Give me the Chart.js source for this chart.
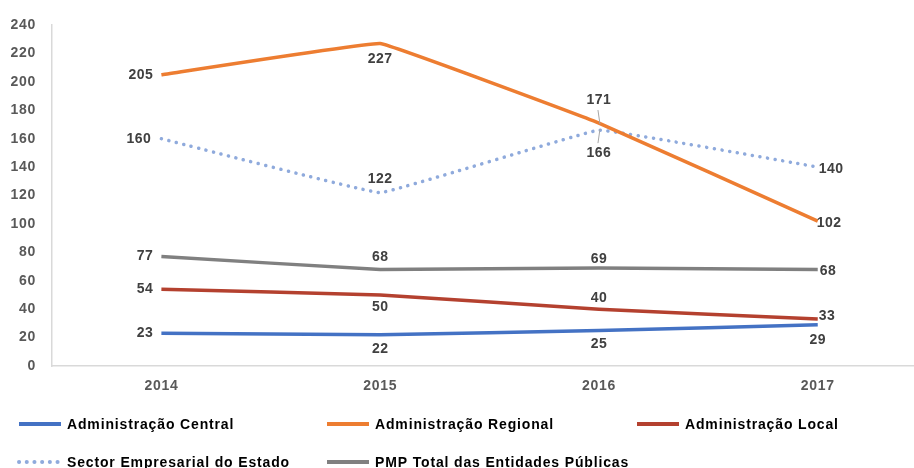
<!DOCTYPE html>
<html>
<head>
<meta charset="utf-8">
<script src="https://cdn.jsdelivr.net/npm/chart.js@4.4.0/dist/chart.umd.min.js"></script>
<style>
    html, body { margin: 0; padding: 0; background: #fff; }
    #wrap { width: 914px; height: 468px; position: relative; }
</style>
</head>
<body>
<div id="wrap"><canvas id="chart"></canvas></div>
<script>
// Data
const years = [2014, 2015, 2016, 2017];
const seriesNames = [
    'Administração Central',
    'Administração Regional',
    'Administração Local',
    'Sector Empresarial do Estado',
    'PMP Total das Entidades Públicas'
];
const adminCentral = [23, 22, 25, 29];
const adminRegional = [205, 227, 171, 102];
const adminLocal = [54, 50, 40, 33];
const sectorEmpresarial = [160, 122, 166, 140];
const pmpTotal = [77, 68, 69, 68];
const yTicks = [0, 20, 40, 60, 80, 100, 120, 140, 160, 180, 200, 220, 240];

// Where each value label sits relative to its point: [dx, dy, align, leader]
const labelPlacement = [
    [[-8, 0, 'right'], [0, 14, 'center'], [0, 14, 'center'], [0, 15, 'center']],
    [[-8, 0, 'right'], [0, 16, 'center'], [0, -23, 'center', true], [-1, 2, 'left']],
    [[-8, 0, 'right'], [0, 12, 'center'], [0, -11, 'center'], [1, -3, 'left']],
    [[-10, 0, 'right'], [0, -14, 'center'], [0, 23, 'center', true], [1, 2, 'left']],
    [[-8, 0, 'right'], [0, -12, 'center'], [0, -9, 'center'], [2, 2, 'left']]
];

const colors = ['#4472C4', '#ED7D31', '#B4412F', '#8FAADC', '#808080'];
const FONT = '"Liberation Sans", Arial, sans-serif';

function toPoints(values) {
    return values.map((v, i) => ({ x: years[i], y: v }));
}

const allSeries = [adminCentral, adminRegional, adminLocal, sectorEmpresarial, pmpTotal];

const datasets = allSeries.map((values, i) => ({
    label: seriesNames[i],
    data: toPoints(values),
    borderColor: colors[i],
    backgroundColor: colors[i],
    borderWidth: 3.5,
    borderDash: i === 3 ? [0.1, 7.6] : [],
    borderCapStyle: i === 3 ? 'round' : 'butt',
    pointRadius: 0,
    pointHoverRadius: 0,
    tension: 0.05,
    fill: false
}));

// wider letter spacing, closer to the original's geometric font
const spacing = {
    id: 'spacing',
    beforeUpdate(chart) { chart.ctx.letterSpacing = '0.7px'; },
    beforeDraw(chart) { chart.ctx.letterSpacing = '0.7px'; }
};

// value labels next to each point
const valueLabels = {
    id: 'valueLabels',
    afterDatasetsDraw(chart) {
        const ctx = chart.ctx;
        ctx.save();
        ctx.letterSpacing = '0.5px';
        ctx.font = 'bold 14px ' + FONT;
        ctx.fillStyle = '#404040';
        ctx.textBaseline = 'middle';
        chart.data.datasets.forEach((ds, di) => {
            const meta = chart.getDatasetMeta(di);
            meta.data.forEach((pt, pi) => {
                const p = labelPlacement[di][pi];
                const x = pt.x + p[0];
                const y = pt.y + p[1];
                ctx.textAlign = p[2];
                ctx.fillText(String(allSeries[di][pi]), x, y);
                if (p[3]) {
                    // small leader line back to the point
                    ctx.strokeStyle = '#a6a6a6';
                    ctx.lineWidth = 1;
                    ctx.beginPath();
                    const dir = p[1] < 0 ? 1 : -1;
                    ctx.moveTo(x - 1, y + dir * 10);
                    ctx.lineTo(pt.x + 1, pt.y + dir * 1);
                    ctx.stroke();
                }
            });
        });
        ctx.restore();
    }
};

// legend laid out as a 3-column grid under the chart
const gridLegend = {
    id: 'gridLegend',
    afterDraw(chart) {
        const ctx = chart.ctx;
        const colX = [17, 325, 635];
        const rowY = [424, 462];
        ctx.save();
        ctx.letterSpacing = '0.85px';
        ctx.font = 'bold 14px ' + FONT;
        ctx.fillStyle = '#000';
        ctx.textBaseline = 'middle';
        ctx.textAlign = 'left';
        chart.data.datasets.forEach((ds, i) => {
            const x = colX[i % 3];
            const y = rowY[Math.floor(i / 3)];
            ctx.strokeStyle = ds.borderColor;
            ctx.lineWidth = 4;
            ctx.setLineDash(ds.borderDash);
            ctx.lineCap = ds.borderCapStyle;
            ctx.beginPath();
            ctx.moveTo(x + 2, y);
            ctx.lineTo(x + 44, y);
            ctx.stroke();
            ctx.setLineDash([]);
            ctx.fillText(ds.label, x + 50, y + 1);
        });
        ctx.restore();
    }
};

new Chart(document.getElementById('chart'), {
    type: 'line',
    data: { datasets: datasets },
    options: {
        responsive: true,
        maintainAspectRatio: false,
        animation: false,
        events: [],
        layout: { padding: { top: 25, right: 0, bottom: 0, left: 0 } },
        plugins: {
            legend: { display: false },
            tooltip: { enabled: false }
        },
        scales: {
            x: {
                type: 'linear',
                min: 2013.5,
                max: 2017.44,
                afterBuildTicks: s => { s.ticks = years.map(v => ({ value: v })); },
                afterFit: s => { s.height = 102; },
                grid: { display: false, drawTicks: false },
                border: { color: '#d9d9d9', width: 1.5 },
                ticks: {
                    padding: 12,
                    color: '#595959',
                    font: { family: FONT, size: 14, weight: 'bold' },
                    callback: v => String(v)
                }
            },
            y: {
                min: 0,
                max: 240,
                afterBuildTicks: s => { s.ticks = yTicks.map(v => ({ value: v })); },
                afterFit: s => { s.width = 52; },
                grid: { display: false, drawTicks: false },
                border: { color: '#d9d9d9', width: 1.5 },
                ticks: {
                    padding: 16,
                    color: '#595959',
                    font: { family: FONT, size: 14, weight: 'bold' }
                }
            }
        }
    },
    plugins: [spacing, valueLabels, gridLegend]
});
</script>
</body>
</html>
